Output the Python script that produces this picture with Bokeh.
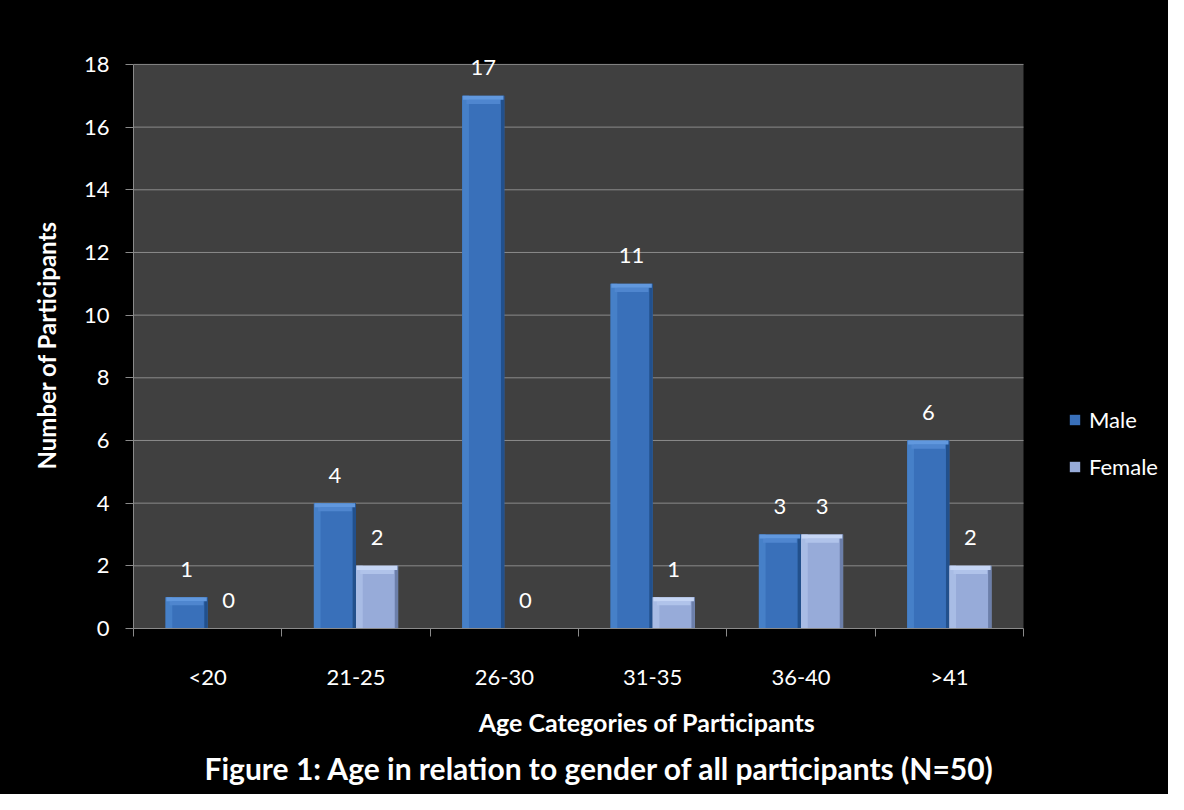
import numpy as np
from bokeh.plotting import figure
from bokeh.models import (ColumnDataSource, Range1d, LinearAxis, FixedTicker, Title,
                          Legend, LegendItem)
from bokeh.core.properties import value
from bokeh.embed import file_html
from bokeh.resources import INLINE

categories = ["<20", "21-25", "26-30", "31-35", "36-40", ">41"]
male = [1, 4, 17, 11, 3, 6]
female = [0, 2, 0, 1, 3, 2]
y_ticks = [0, 2, 4, 6, 8, 10, 12, 14, 16, 18]

FONT = "Lato"
GRID = "#8A8A8A"
W = 0.284
YMAX = 18
YTOP = 18.7
N = len(categories)

# layout (pixels)
FIG_W, FIG_H = 1168, 794
LEFT, TOP, RIGHT_PAD, BOTTOM = 133, 42, 8, 165
AREA_RIGHT = 1023  # right edge of the grey plot area
XEND = N * (FIG_W - RIGHT_PAD - LEFT) / (AREA_RIGHT - LEFT)

centers = np.arange(N) + 0.5

p = figure(width=FIG_W, height=FIG_H, x_range=Range1d(0, XEND), y_range=Range1d(0, YTOP),
           output_backend="svg", toolbar_location=None, x_axis_location=None,
           min_border_left=LEFT, min_border_top=TOP, min_border_right=RIGHT_PAD,
           min_border_bottom=BOTTOM)
p.styles = {"background-color": "black"}
p.border_fill_color = "black"
p.background_fill_color = "black"
p.outline_line_color = None
p.xgrid.grid_line_color = None
p.ygrid.grid_line_color = None

# grey plot area (0..18)
p.quad(left=[0], right=[N], bottom=[0], top=[YMAX],
       fill_color="#404040", line_color=None, level="image")
# horizontal gridlines limited to the plot area
gy = [t for t in y_ticks if t > 0]
p.segment(x0=[0] * len(gy), x1=[N] * len(gy), y0=gy, y1=gy,
          line_color=GRID, line_width=1, level="underlay")

# y axis
ya = p.yaxis[0]
ya.ticker = FixedTicker(ticks=y_ticks)
ya.bounds = (0, YMAX)
ya.axis_line_color = GRID
ya.major_tick_line_color = GRID
ya.major_tick_out = 8
ya.major_tick_in = 0
ya.minor_tick_line_color = None
ya.major_label_text_color = "white"
ya.major_label_text_font = FONT
ya.major_label_text_font_size = "22px"
ya.major_label_standoff = 16

# y axis title (centred on the grey area, not on the extended frame)
p.add_layout(Title(text="Number of Participants", align="left", offset=159,
                   text_color="white", text_font=FONT, text_font_style="bold",
                   text_font_size="24px", standoff=39), "left")

# x axis: boundary ticks
bounds = list(range(N + 1))
xa1 = LinearAxis(ticker=FixedTicker(ticks=bounds), bounds=(0, N),
                 major_label_overrides={b: "" for b in bounds},
                 major_label_text_font_size="1px", major_label_standoff=0,
                 axis_line_color=GRID, major_tick_line_color=GRID,
                 major_tick_out=8, major_tick_in=0, minor_tick_line_color=None)
p.add_layout(xa1, "below")

# x axis: category labels
xa2 = LinearAxis(ticker=FixedTicker(ticks=list(centers)),
                 major_label_overrides={float(c): cat for c, cat in zip(centers, categories)},
                 axis_line_color=None, major_tick_line_color=None, minor_tick_line_color=None,
                 major_tick_out=0, major_tick_in=0, major_label_standoff=26,
                 major_label_text_color="white", major_label_text_font=FONT,
                 major_label_text_font_size="22px",
                 axis_label="Age Categories of Participants", axis_label_text_color="white",
                 axis_label_text_font=FONT, axis_label_text_font_style="bold",
                 axis_label_text_font_size="25px", axis_label_standoff=14)
p.add_layout(xa2, "below")

p.add_layout(Title(text="Figure 1: Age in relation to gender of all participants (N=50)",
                   align="left", offset=71, text_color="white", text_font=FONT,
                   text_font_style="bold", text_font_size="30px", standoff=17), "below")


def series(vals, offset, base, left, right, top1, top2):
    vals = np.array(vals, dtype=float)
    x = centers + offset
    src = ColumnDataSource(dict(x=x, top=vals,
                                b1=np.maximum(vals - 0.13, 0),
                                b2=np.maximum(vals - 0.26, 0),
                                lab=[str(int(v)) for v in vals]))
    r = p.vbar(x="x", top="top", bottom=0, width=W, source=src,
               fill_color=base, line_color=None)
    sx = ColumnDataSource(dict(xl=x - W * 0.42, xr=x + W * 0.46, top=vals))
    p.vbar(x="xl", top="top", bottom=0, width=W * 0.16, source=sx,
           fill_color=left, line_color=None)
    p.vbar(x="xr", top="top", bottom=0, width=W * 0.08, source=sx,
           fill_color=right, line_color=None)
    p.vbar(x="x", top="b1", bottom="b2", width=W * 0.8, source=src,
           fill_color=top2, line_color=None)
    p.vbar(x="x", top="top", bottom="b1", width=W * 0.96, source=src,
           fill_color=top1, line_color=None)
    p.text(x="x", y="top", text="lab", source=src, text_align="center",
           text_baseline="middle", y_offset=-28, text_color="white",
           text_font=value(FONT), text_font_size="22px")
    return r


r_m = series(male, -W / 2, "#3970BA", "#4680C8", "#22508C", "#6198DE", "#4F86CF")
r_f = series(female, W / 2, "#97ABD9", "#A8BCE5", "#6C7FAA", "#C6D6F5", "#B0C3EA")

legend = Legend(items=[LegendItem(label="Male", renderers=[r_m]),
                       LegendItem(label="Female", renderers=[r_f])],
                location=(935, 148), glyph_width=13, glyph_height=13, label_standoff=8,
                spacing=20, padding=0, margin=0, border_line_color=None,
                background_fill_alpha=0, label_text_color="white", label_text_font=FONT,
                label_text_font_size="22px", label_height=13)
p.add_layout(legend, "center")

open("out.html", "w").write(file_html(p, INLINE))
